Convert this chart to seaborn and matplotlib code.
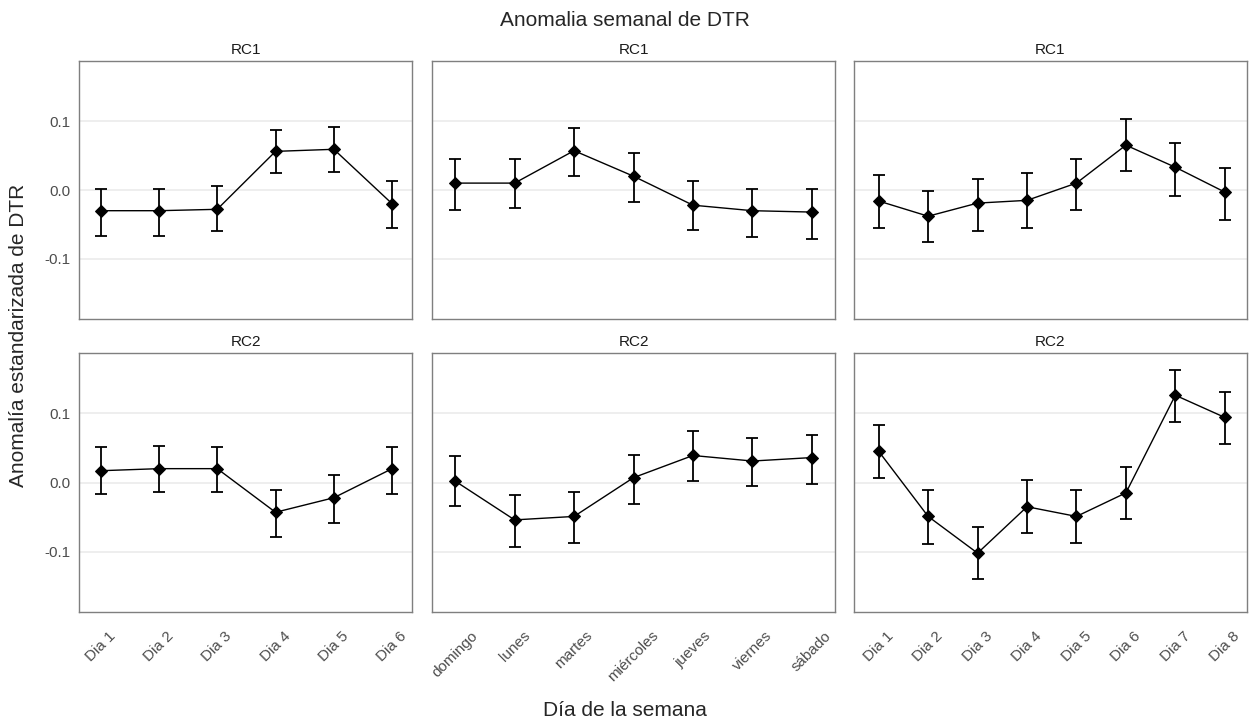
import seaborn as sns
import matplotlib.pyplot as plt
import pandas as pd

# etiquetas de los ejes x
dias6 = ['Dia 1', 'Dia 2', 'Dia 3', 'Dia 4', 'Dia 5', 'Dia 6']
semana = ['domingo', 'lunes', 'martes', 'miércoles', 'jueves', 'viernes', 'sábado']
dias8 = ['Dia 1', 'Dia 2', 'Dia 3', 'Dia 4', 'Dia 5', 'Dia 6', 'Dia 7', 'Dia 8']

# RC1
rc1_dias6 = [-0.030, -0.030, -0.028, 0.056, 0.059, -0.020]
rc1_dias6_lo = [-0.066, -0.066, -0.059, 0.024, 0.026, -0.055]
rc1_dias6_hi = [0.002, 0.002, 0.006, 0.087, 0.092, 0.013]

rc1_semana = [0.010, 0.010, 0.057, 0.020, -0.022, -0.030, -0.032]
rc1_semana_lo = [-0.029, -0.026, 0.021, -0.018, -0.058, -0.068, -0.071]
rc1_semana_hi = [0.045, 0.045, 0.090, 0.053, 0.013, 0.002, 0.002]

rc1_dias8 = [-0.016, -0.038, -0.019, -0.015, 0.010, 0.065, 0.033, -0.003]
rc1_dias8_lo = [-0.055, -0.076, -0.060, -0.055, -0.029, 0.027, -0.008, -0.044]
rc1_dias8_hi = [0.022, -0.002, 0.016, 0.024, 0.045, 0.103, 0.068, 0.032]

# RC2
rc2_dias6 = [0.017, 0.020, 0.020, -0.043, -0.022, 0.020]
rc2_dias6_lo = [-0.016, -0.013, -0.013, -0.079, -0.058, -0.016]
rc2_dias6_hi = [0.051, 0.053, 0.051, -0.011, 0.011, 0.051]

rc2_semana = [0.002, -0.054, -0.049, 0.007, 0.039, 0.031, 0.036]
rc2_semana_lo = [-0.034, -0.093, -0.087, -0.031, 0.002, -0.005, -0.002]
rc2_semana_hi = [0.038, -0.018, -0.013, 0.040, 0.075, 0.064, 0.069]

rc2_dias8 = [0.045, -0.049, -0.102, -0.035, -0.049, -0.015, 0.126, 0.094]
rc2_dias8_lo = [0.006, -0.089, -0.140, -0.073, -0.087, -0.053, 0.088, 0.056]
rc2_dias8_hi = [0.083, -0.011, -0.064, 0.003, -0.011, 0.022, 0.162, 0.131]

sns.set_style('white')
plt.rcParams['font.family'] = ['Liberation Sans', 'DejaVu Sans']

fig = plt.figure(figsize=(12.5, 7.22), dpi=100)
W, H = 1250, 722

# posiciones de los paneles en pixeles (izq, der)
cols = [(79, 412), (432, 835), (854, 1247)]
rows = [(61, 319), (353, 612)]
xlims = [(-0.37, 5.34), (-0.39, 6.39), (-0.5, 7.45)]

panels = [
    [('RC1', dias6, rc1_dias6, rc1_dias6_lo, rc1_dias6_hi),
     ('RC1', semana, rc1_semana, rc1_semana_lo, rc1_semana_hi),
     ('RC1', dias8, rc1_dias8, rc1_dias8_lo, rc1_dias8_hi)],
    [('RC2', dias6, rc2_dias6, rc2_dias6_lo, rc2_dias6_hi),
     ('RC2', semana, rc2_semana, rc2_semana_lo, rc2_semana_hi),
     ('RC2', dias8, rc2_dias8, rc2_dias8_lo, rc2_dias8_hi)],
]

for r, (top, bot) in enumerate(rows):
    for c, (left, right) in enumerate(cols):
        name, labels, vals, lo, hi = panels[r][c]
        ax = fig.add_axes([left / W, 1 - bot / H, (right - left) / W, (bot - top) / H])
        df = pd.DataFrame({'x': range(len(vals)), 'y': vals, 'lo': lo, 'hi': hi})
        ax.errorbar(df['x'], df['y'],
                    yerr=[df['y'] - df['lo'], df['hi'] - df['y']],
                    fmt='none', ecolor='black', elinewidth=1.3, capsize=4, capthick=1.3, zorder=3)
        sns.lineplot(data=df, x='x', y='y', ax=ax, color='black', linewidth=1,
                     marker='D', markersize=6, markeredgecolor='black', zorder=4)
        ax.set_xlim(*xlims[c])
        ax.set_ylim(-0.187, 0.187)
        ax.set_yticks([-0.1, 0.0, 0.1])
        ax.grid(axis='y', color='#ebebeb', linewidth=1.2)
        ax.set_axisbelow(True)
        for s in ax.spines.values():
            s.set_color('#7f7f7f')
            s.set_linewidth(1)
        ax.set_title(name, fontsize=11, color='#1a1a1a', pad=5)
        ax.set_xlabel('')
        ax.set_ylabel('')
        ax.tick_params(length=0, labelsize=11, labelcolor='#4d4d4d')
        if c == 0:
            ax.set_yticklabels(['-0.1', '0.0', '0.1'])
            ax.tick_params(axis='y', pad=6)
        else:
            ax.set_yticklabels([])
        if r == 1:
            ax.set_xticks(range(len(labels)))
            ax.set_xticklabels(labels, rotation=45, ha='center')
            ax.tick_params(axis='x', pad=12)
        else:
            ax.set_xticks(range(len(labels)))
            ax.set_xticklabels([])

fig.text(625 / W, 1 - 20 / H, 'Anomalia semanal de DTR', ha='center', va='center', fontsize=15)
fig.text(625 / W, 1 - 711 / H, 'Día de la semana', ha='center', va='center', fontsize=15)
fig.text(19 / W, 1 - 335 / H, 'Anomalía estandarizada de DTR', ha='center', va='center',
         rotation=90, fontsize=15)

plt.savefig('out.png', dpi=100)
